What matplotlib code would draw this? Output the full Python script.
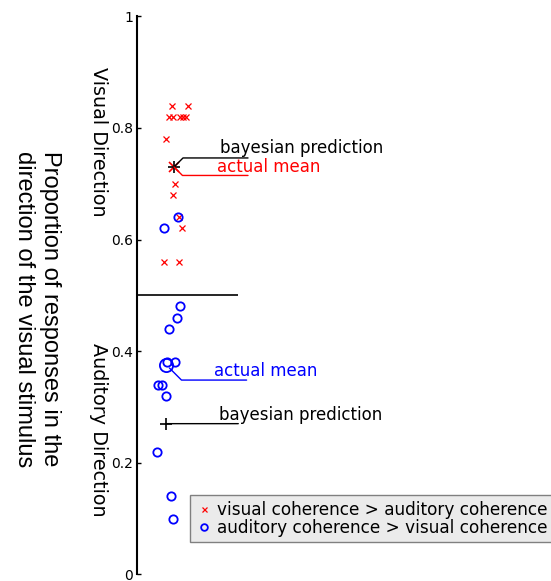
import matplotlib
matplotlib.use("Agg")
import matplotlib.pyplot as plt
from matplotlib import transforms

# trials where visual coherence was higher (red crosses)
visual_x = [0.345, 0.505, 0.315, 0.36, 0.425, 0.46, 0.485, 0.285,
            0.375, 0.36, 0.415, 0.445, 0.27, 0.415]
visual_y = [0.84, 0.84, 0.82, 0.82, 0.82, 0.82, 0.82, 0.78,
            0.70, 0.68, 0.64, 0.62, 0.56, 0.56]

# trials where auditory coherence was higher (blue circles)
auditory_x = [0.41, 0.265, 0.425, 0.395, 0.32, 0.30, 0.38, 0.21,
              0.245, 0.285, 0.20, 0.335, 0.355]
auditory_y = [0.64, 0.62, 0.48, 0.46, 0.44, 0.38, 0.38, 0.34,
              0.34, 0.32, 0.22, 0.14, 0.10]

# group means and model predictions
visual_mean = (0.365, 0.73)
visual_pred = (0.365, 0.73)
auditory_mean = (0.29, 0.375)
auditory_pred = (0.29, 0.27)

chance_level = 0.5
yticks = [0, 0.2, 0.4, 0.6, 0.8, 1]
ytick_labels = ["0", "0.2", "0.4", "0.6", "0.8", "1"]

fig = plt.figure(figsize=(5.51, 5.81), dpi=100)
ax = fig.add_axes([0.2495, 0.0115, 0.7505, 0.9604])

ax.plot(visual_x, visual_y, "x", color="r", markersize=4.5, mew=0.9,
        label="visual coherence > auditory coherence", clip_on=False)
ax.plot(auditory_x, auditory_y, "o", color="b", mfc="none", markersize=6,
        mew=1.3, label="auditory coherence > visual coherence", clip_on=False)

ax.plot(*visual_mean, "x", color="r", markersize=7.5, mew=1.2)
ax.plot(*visual_pred, "+", color="k", markersize=9, mew=1.2)
ax.plot(*auditory_mean, "o", color="b", mfc="none", markersize=9.5, mew=1.3)
ax.plot(*auditory_pred, "+", color="k", markersize=9, mew=1.2)

ax.hlines(chance_level, 0, 1.005, color="k", lw=1.2)

# leader lines and labels for the means / predictions
def leader(pt, end, color, angle, shrink=0):
    style = "arc3" if angle is None else f"angle,angleA=180,angleB={angle},rad=0"
    ax.annotate("", xy=pt, xytext=end, textcoords="offset points",
                arrowprops=dict(arrowstyle="-", color=color, lw=1.0,
                                shrinkA=0, shrinkB=shrink,
                                connectionstyle=style))

def label(pt, off, text, color):
    ax.annotate(text, xy=pt, xytext=off, textcoords="offset points",
                ha="left", va="center", color=color, fontsize=12)

leader(visual_pred, (53.3, 6.5), "k", 45)
label(visual_pred, (32.8, 13.7), "bayesian prediction", "k")
leader(visual_mean, (53.3, -6.1), "r", -45)
label(visual_mean, (30.7, 0), "actual mean", "r")

leader(auditory_mean, (57.7, -10.8), "b", -45, shrink=3)
label(auditory_mean, (34.4, -4.3), "actual mean", "b")
leader(auditory_pred, (51.7, 0), "k", None)
label(auditory_pred, (38, 6), "bayesian prediction", "k")

ax.set_xlim(0, 4.135)
ax.set_ylim(0, 1)
ax.set_xticks([])
ax.set_yticks(yticks)
ax.set_yticklabels(ytick_labels, fontsize=10)
ax.tick_params(axis="y", direction="in", length=3, width=1, pad=3)
for side in ("top", "right", "bottom"):
    ax.spines[side].set_visible(False)
ax.spines["left"].set_linewidth(1.5)
ax.patch.set_visible(False)

side_tr = transforms.blended_transform_factory(fig.transFigure, ax.transData)
ax.text(98 / 551, 0.7756, "Visual Direction", transform=side_tr,
        rotation=270, ha="center", va="center", fontsize=13.8)
ax.text(98 / 551, 0.2587, "Auditory Direction", transform=side_tr,
        rotation=270, ha="center", va="center", fontsize=13.8)

fig.text(37 / 551, 1 - 309 / 581,
         "Proportion of responses in the\ndirection of the visual stimulus",
         rotation=270, ha="center", va="center", multialignment="left",
         fontsize=17, family="Liberation Sans")

leg = ax.legend(loc="lower left", bbox_to_anchor=(190 / 551, 39 / 581),
                bbox_transform=fig.transFigure, fontsize=12.2, markerscale=0.8,
                handlelength=1.0, handletextpad=0.3, borderpad=0.3,
                labelspacing=0.02, borderaxespad=0, fancybox=False,
                framealpha=1)
leg.get_frame().set_facecolor("#ebebeb")
leg.get_frame().set_edgecolor("#808080")
leg.get_frame().set_linewidth(1.0)

fig.savefig("out.png", dpi=100)
